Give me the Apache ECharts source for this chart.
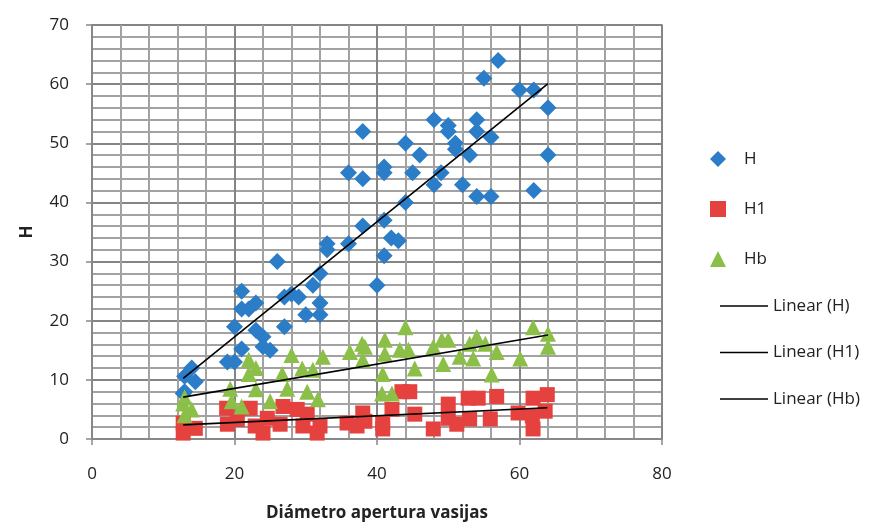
<!DOCTYPE html>
<html>
<head>
<meta charset="utf-8">
<script src="https://cdn.jsdelivr.net/npm/echarts@6/dist/echarts.min.js"></script>
<style>
  html, body { margin: 0; padding: 0; background: #fff; }
  #chart { width: 889px; height: 527px; }
</style>
</head>
<body>
<div id="chart"></div>
<script>
// diameter (x) / height (y) pairs
const hX = [57, 55, 60, 62, 64, 64, 62, 56, 54, 52, 48, 49, 45, 41, 41, 46, 44, 48, 50, 50,
  51, 51, 54, 54, 56, 53, 44, 41, 42, 43, 38, 36, 38, 38, 33, 33, 36, 41, 40, 26,
  21, 21, 22, 23, 28, 27, 29, 31, 32, 32, 30, 32, 27, 20, 23, 24, 24, 25, 21, 19,
  20, 14, 13, 14.5, 13, 12.8];
const hY = [64, 61, 59, 59, 56, 48, 42, 41, 41, 43, 43, 45, 45, 46, 45, 48, 50, 54, 53, 52,
  50, 49, 54, 52, 51, 48, 40, 37, 34, 33.5, 52, 45, 44, 36, 33, 32, 33, 31, 26, 30,
  25, 22, 22, 23, 24.5, 24, 24, 26, 28, 23, 21, 21, 19, 19, 18.4, 17.3, 15.6, 15, 15.2, 13,
  13, 12, 10.6, 9.7, 8, 7.7];

const h1X = [12.8, 14.5, 12.8, 18.9, 19, 20.4, 22.2, 22.9, 24.6, 24, 26.8, 26.4, 28.8, 30.2,
  29.6, 32, 31.6, 35.8, 38, 37.2, 38.3, 40.8, 40.8, 42.1, 44.6, 43.5, 45.3, 47.9, 50, 50,
  51.2, 52.8, 53, 54.2, 55.9, 56.8, 59.8, 61.9, 63.9, 63.6, 61.9, 61.8];
const h1Y = [2.7, 1.8, 1, 5.2, 2.5, 3.3, 5.2, 2.2, 3.5, 1, 5.5, 2.5, 5, 4.2,
  2.2, 2.2, 1, 2.7, 4.4, 2.2, 3, 2.7, 1.7, 5, 8, 8, 4.2, 1.7, 5.9, 3.5,
  2.5, 6.9, 3.4, 6.9, 3.4, 7.2, 4.4, 6.9, 7.5, 4.7, 1.7, 3.9];

const hbX = [12.8, 13, 14, 13, 19.4, 19.6, 22, 23, 22, 23, 21, 25, 26.7, 28, 27.4, 30.2,
  31, 32.4, 31.7, 29.5, 36.2, 37.9, 38, 38.3, 41.1, 41.1, 40.8, 40.7, 42.1, 44, 43.2, 44.4,
  45.3, 47.9, 49.1, 50, 49.3, 51.6, 53, 54, 55.2, 53.5, 56.1, 56.8, 60.1, 61.9, 64, 64];
const hbY = [6, 7, 5, 4, 8.5, 6.4, 13.4, 12, 11, 8.4, 5.5, 6.4, 11, 14.2, 8.5, 8,
  11.7, 13.9, 6.7, 11.9, 14.7, 16.1, 13.4, 15.6, 16.8, 14.4, 11, 7.7, 7.7, 18.9, 15.1, 15.1,
  11.9, 15.6, 16.8, 16.8, 12.7, 13.9, 16.1, 17.3, 16.1, 13.6, 10.9, 14.7, 13.6, 18.9, 17.8, 15.6];

const xTicks = { min: 0, max: 80, interval: 20 };
const yTicks = { min: 0, max: 70, interval: 10 };

const FONT = "'Open Sans', 'Noto Sans', sans-serif";
const MAJOR = "#858585";
const MINOR = "#a2a2a2";

function pairs(xs, ys) {
  return xs.map((x, i) => [x, ys[i]]);
}

// least squares trend line, drawn between min and max x like Excel does
function trend(xs, ys) {
  const n = xs.length;
  const mx = xs.reduce((a, b) => a + b, 0) / n;
  const my = ys.reduce((a, b) => a + b, 0) / n;
  let sxy = 0, sxx = 0;
  xs.forEach((x, i) => {
    sxy += (x - mx) * (ys[i] - my);
    sxx += (x - mx) * (x - mx);
  });
  const b = sxy / sxx;
  const a = my - b * mx;
  const x0 = Math.min(...xs);
  const x1 = Math.max(...xs);
  return [[x0, a + b * x0], [x1, a + b * x1]];
}

const chart = echarts.init(document.getElementById("chart"));

const axisLine = { show: true, onZero: false, lineStyle: { color: "#888", width: 2 } };
const tickStyle = { color: "#888", width: 1.5 };
const labelStyle = { color: "#222", fontSize: 17, fontFamily: FONT };
const nameStyle = { color: "#222", fontSize: 17, fontWeight: "bold", fontFamily: FONT };
const gridLines = {
  splitLine: { show: true, lineStyle: { color: MAJOR, width: 2 } },
  minorTick: { show: true, splitNumber: 5, length: 0 },
  minorSplitLine: { show: true, lineStyle: { color: MINOR, width: 2 } }
};

const trendLine = (name, xs, ys) => ({
  name,
  type: "line",
  data: trend(xs, ys),
  symbol: "none",
  silent: true,
  z: 5,
  lineStyle: { color: "#000", width: 1.6 },
  itemStyle: { color: "#000" }
});

const legendText = { color: "#222", fontSize: 17, lineHeight: 20, fontFamily: FONT };

chart.setOption({
  animation: false,
  backgroundColor: "#fff",
  grid: {
    left: 92, right: 227, top: 25, bottom: 84,
    show: true, borderColor: MAJOR, borderWidth: 1.5
  },
  xAxis: {
    type: "value",
    ...xTicks,
    ...gridLines,
    axisLine,
    axisTick: { show: true, length: 6, lineStyle: tickStyle },
    axisLabel: { ...labelStyle, margin: 27 },
    name: "Diámetro apertura vasijas",
    nameTextStyle: nameStyle,
    nameLocation: "middle",
    nameGap: 66
  },
  yAxis: {
    type: "value",
    ...yTicks,
    ...gridLines,
    axisLine,
    axisTick: { show: true, length: 6, lineStyle: tickStyle },
    axisLabel: { ...labelStyle, margin: 23 },
    name: "H",
    nameTextStyle: nameStyle,
    nameLocation: "middle",
    nameRotate: 90,
    nameGap: 56
  },
  legend: [
    {
      data: ["H", "H1", "Hb"],
      orient: "vertical",
      left: 705,
      top: 144,
      itemWidth: 16,
      itemHeight: 16,
      itemGap: 30,
      textStyle: { ...legendText, padding: [0, 0, 0, 13] }
    },
    {
      data: ["Linear (H)", "Linear (H1)", "Linear (Hb)"],
      orient: "vertical",
      left: 715,
      top: 291,
      icon: "rect",
      itemWidth: 48,
      itemHeight: 1.6,
      itemGap: 26.5,
      textStyle: legendText
    }
  ],
  series: [
    {
      name: "H",
      type: "scatter",
      symbol: "diamond",
      symbolSize: 17,
      data: pairs(hX, hY),
      itemStyle: { color: "#2b7dc8", opacity: 1 },
      z: 3
    },
    {
      name: "H1",
      type: "scatter",
      symbol: "rect",
      symbolSize: 15,
      data: pairs(h1X, h1Y),
      itemStyle: { color: "#e5413f", opacity: 1 },
      z: 2
    },
    {
      name: "Hb",
      type: "scatter",
      symbol: "triangle",
      symbolSize: 16,
      data: pairs(hbX, hbY),
      itemStyle: { color: "#8cbf48", opacity: 1 },
      z: 4
    },
    trendLine("Linear (H)", hX, hY),
    trendLine("Linear (H1)", h1X, h1Y),
    trendLine("Linear (Hb)", hbX, hbY)
  ]
});
</script>
</body>
</html>
